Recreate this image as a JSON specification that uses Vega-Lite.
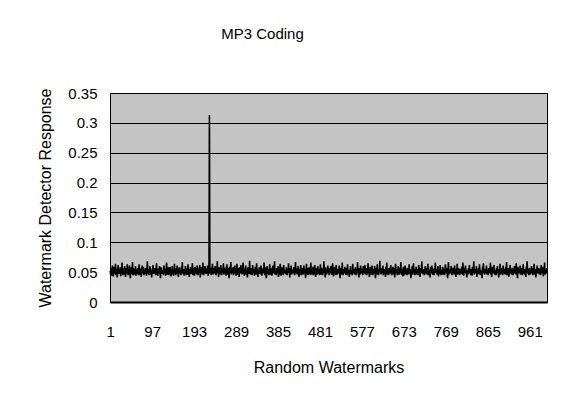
{"$schema":"https://vega.github.io/schema/vega-lite/v6.json","width":437,"height":209,"autosize":{"type":"none"},"padding":{"left":110,"top":93,"right":17,"bottom":102},"background":"white","title":{"text":"MP3 Coding","font":"Liberation Sans","fontSize":15,"fontWeight":"normal","color":"black","offset":44,"dx":-66},"config":{"view":{"fill":"#c4c4c4","stroke":"black","strokeWidth":1},"axis":{"labelFont":"Liberation Sans","titleFont":"Liberation Sans","labelFontSize":15,"titleFontSize":16,"titleFontWeight":"normal","labelColor":"black","titleColor":"black"}},"data":{"values":[
{"x":1,"y":0.052},{"x":2,"y":0.046},{"x":3,"y":0.057},{"x":4,"y":0.044},{"x":5,"y":0.050},{"x":6,"y":0.061},{"x":7,"y":0.049},{"x":8,"y":0.043},{"x":9,"y":0.054},{"x":10,"y":0.059},{"x":11,"y":0.047},{"x":12,"y":0.053},{"x":13,"y":0.064},{"x":14,"y":0.045},{"x":15,"y":0.050},{"x":16,"y":0.056},{"x":17,"y":0.041},{"x":18,"y":0.052},{"x":19,"y":0.062},{"x":20,"y":0.051},
{"x":21,"y":0.047},{"x":22,"y":0.055},{"x":23,"y":0.049},{"x":24,"y":0.058},{"x":25,"y":0.043},{"x":26,"y":0.053},{"x":27,"y":0.048},{"x":28,"y":0.066},{"x":29,"y":0.051},{"x":30,"y":0.045},{"x":31,"y":0.056},{"x":32,"y":0.049},{"x":33,"y":0.046},{"x":34,"y":0.060},{"x":35,"y":0.052},{"x":36,"y":0.042},{"x":37,"y":0.050},{"x":38,"y":0.057},{"x":39,"y":0.048},{"x":40,"y":0.063},
{"x":41,"y":0.050},{"x":42,"y":0.045},{"x":43,"y":0.055},{"x":44,"y":0.051},{"x":45,"y":0.061},{"x":46,"y":0.047},{"x":47,"y":0.040},{"x":48,"y":0.053},{"x":49,"y":0.058},{"x":50,"y":0.049},{"x":51,"y":0.048},{"x":52,"y":0.067},{"x":53,"y":0.052},{"x":54,"y":0.045},{"x":55,"y":0.050},{"x":56,"y":0.056},{"x":57,"y":0.046},{"x":58,"y":0.051},{"x":59,"y":0.060},{"x":60,"y":0.044},
{"x":61,"y":0.054},{"x":62,"y":0.049},{"x":63,"y":0.047},{"x":64,"y":0.057},{"x":65,"y":0.052},{"x":66,"y":0.045},{"x":67,"y":0.063},{"x":68,"y":0.051},{"x":69,"y":0.046},{"x":70,"y":0.056},{"x":71,"y":0.050},{"x":72,"y":0.042},{"x":73,"y":0.053},{"x":74,"y":0.061},{"x":75,"y":0.048},{"x":76,"y":0.051},{"x":77,"y":0.059},{"x":78,"y":0.045},{"x":79,"y":0.054},{"x":80,"y":0.050},
{"x":81,"y":0.047},{"x":82,"y":0.057},{"x":83,"y":0.051},{"x":84,"y":0.044},{"x":85,"y":0.053},{"x":86,"y":0.068},{"x":87,"y":0.050},{"x":88,"y":0.048},{"x":89,"y":0.055},{"x":90,"y":0.045},{"x":91,"y":0.051},{"x":92,"y":0.060},{"x":93,"y":0.046},{"x":94,"y":0.052},{"x":95,"y":0.050},{"x":96,"y":0.041},{"x":97,"y":0.056},{"x":98,"y":0.051},{"x":99,"y":0.062},{"x":100,"y":0.047},
{"x":101,"y":0.053},{"x":102,"y":0.048},{"x":103,"y":0.057},{"x":104,"y":0.049},{"x":105,"y":0.045},{"x":106,"y":0.054},{"x":107,"y":0.065},{"x":108,"y":0.046},{"x":109,"y":0.051},{"x":110,"y":0.044},{"x":111,"y":0.056},{"x":112,"y":0.050},{"x":113,"y":0.052},{"x":114,"y":0.060},{"x":115,"y":0.048},{"x":116,"y":0.040},{"x":117,"y":0.053},{"x":118,"y":0.058},{"x":119,"y":0.050},{"x":120,"y":0.047},
{"x":121,"y":0.054},{"x":122,"y":0.051},{"x":123,"y":0.045},{"x":124,"y":0.061},{"x":125,"y":0.050},{"x":126,"y":0.048},{"x":127,"y":0.056},{"x":128,"y":0.044},{"x":129,"y":0.052},{"x":130,"y":0.066},{"x":131,"y":0.051},{"x":132,"y":0.046},{"x":133,"y":0.050},{"x":134,"y":0.058},{"x":135,"y":0.045},{"x":136,"y":0.054},{"x":137,"y":0.048},{"x":138,"y":0.059},{"x":139,"y":0.051},{"x":140,"y":0.043},
{"x":141,"y":0.052},{"x":142,"y":0.049},{"x":143,"y":0.060},{"x":144,"y":0.046},{"x":145,"y":0.054},{"x":146,"y":0.044},{"x":147,"y":0.051},{"x":148,"y":0.064},{"x":149,"y":0.048},{"x":150,"y":0.053},{"x":151,"y":0.045},{"x":152,"y":0.056},{"x":153,"y":0.050},{"x":154,"y":0.061},{"x":155,"y":0.047},{"x":156,"y":0.051},{"x":157,"y":0.042},{"x":158,"y":0.054},{"x":159,"y":0.058},{"x":160,"y":0.050},
{"x":161,"y":0.048},{"x":162,"y":0.053},{"x":163,"y":0.045},{"x":164,"y":0.059},{"x":165,"y":0.051},{"x":166,"y":0.067},{"x":167,"y":0.047},{"x":168,"y":0.050},{"x":169,"y":0.055},{"x":170,"y":0.044},{"x":171,"y":0.053},{"x":172,"y":0.048},{"x":173,"y":0.060},{"x":174,"y":0.051},{"x":175,"y":0.045},{"x":176,"y":0.056},{"x":177,"y":0.049},{"x":178,"y":0.046},{"x":179,"y":0.063},{"x":180,"y":0.052},
{"x":181,"y":0.050},{"x":182,"y":0.042},{"x":183,"y":0.055},{"x":184,"y":0.051},{"x":185,"y":0.058},{"x":186,"y":0.047},{"x":187,"y":0.052},{"x":188,"y":0.048},{"x":189,"y":0.065},{"x":190,"y":0.045},{"x":191,"y":0.051},{"x":192,"y":0.057},{"x":193,"y":0.049},{"x":194,"y":0.044},{"x":195,"y":0.059},{"x":196,"y":0.052},{"x":197,"y":0.048},{"x":198,"y":0.055},{"x":199,"y":0.046},{"x":200,"y":0.061},
{"x":201,"y":0.051},{"x":202,"y":0.045},{"x":203,"y":0.056},{"x":204,"y":0.049},{"x":205,"y":0.053},{"x":206,"y":0.062},{"x":207,"y":0.041},{"x":208,"y":0.054},{"x":209,"y":0.048},{"x":210,"y":0.058},{"x":211,"y":0.051},{"x":212,"y":0.046},{"x":213,"y":0.066},{"x":214,"y":0.050},{"x":215,"y":0.045},{"x":216,"y":0.055},{"x":217,"y":0.052},{"x":218,"y":0.060},{"x":219,"y":0.048},{"x":220,"y":0.051},
{"x":221,"y":0.047},{"x":222,"y":0.056},{"x":223,"y":0.049},{"x":224,"y":0.061},{"x":225,"y":0.044},{"x":226,"y":0.053},{"x":227,"y":0.051},{"x":228,"y":0.313},{"x":229,"y":0.048},{"x":230,"y":0.055},{"x":231,"y":0.050},{"x":232,"y":0.045},{"x":233,"y":0.058},{"x":234,"y":0.052},{"x":235,"y":0.064},{"x":236,"y":0.046},{"x":237,"y":0.051},{"x":238,"y":0.057},{"x":239,"y":0.048},{"x":240,"y":0.053},
{"x":241,"y":0.060},{"x":242,"y":0.049},{"x":243,"y":0.045},{"x":244,"y":0.055},{"x":245,"y":0.051},{"x":246,"y":0.068},{"x":247,"y":0.048},{"x":248,"y":0.052},{"x":249,"y":0.042},{"x":250,"y":0.058},{"x":251,"y":0.050},{"x":252,"y":0.054},{"x":253,"y":0.046},{"x":254,"y":0.062},{"x":255,"y":0.051},{"x":256,"y":0.045},{"x":257,"y":0.056},{"x":258,"y":0.049},{"x":259,"y":0.053},{"x":260,"y":0.065},
{"x":261,"y":0.046},{"x":262,"y":0.051},{"x":263,"y":0.058},{"x":264,"y":0.048},{"x":265,"y":0.054},{"x":266,"y":0.044},{"x":267,"y":0.052},{"x":268,"y":0.063},{"x":269,"y":0.050},{"x":270,"y":0.046},{"x":271,"y":0.057},{"x":272,"y":0.051},{"x":273,"y":0.040},{"x":274,"y":0.059},{"x":275,"y":0.052},{"x":276,"y":0.049},{"x":277,"y":0.067},{"x":278,"y":0.046},{"x":279,"y":0.054},{"x":280,"y":0.048},
{"x":281,"y":0.051},{"x":282,"y":0.058},{"x":283,"y":0.045},{"x":284,"y":0.053},{"x":285,"y":0.050},{"x":286,"y":0.061},{"x":287,"y":0.048},{"x":288,"y":0.055},{"x":289,"y":0.044},{"x":290,"y":0.051},{"x":291,"y":0.064},{"x":292,"y":0.049},{"x":293,"y":0.046},{"x":294,"y":0.057},{"x":295,"y":0.052},{"x":296,"y":0.042},{"x":297,"y":0.058},{"x":298,"y":0.051},{"x":299,"y":0.048},{"x":300,"y":0.062},
{"x":301,"y":0.049},{"x":302,"y":0.055},{"x":303,"y":0.046},{"x":304,"y":0.053},{"x":305,"y":0.066},{"x":306,"y":0.048},{"x":307,"y":0.051},{"x":308,"y":0.044},{"x":309,"y":0.056},{"x":310,"y":0.050},{"x":311,"y":0.061},{"x":312,"y":0.046},{"x":313,"y":0.052},{"x":314,"y":0.051},{"x":315,"y":0.041},{"x":316,"y":0.058},{"x":317,"y":0.049},{"x":318,"y":0.054},{"x":319,"y":0.047},{"x":320,"y":0.069},
{"x":321,"y":0.051},{"x":322,"y":0.046},{"x":323,"y":0.057},{"x":324,"y":0.049},{"x":325,"y":0.053},{"x":326,"y":0.045},{"x":327,"y":0.062},{"x":328,"y":0.051},{"x":329,"y":0.048},{"x":330,"y":0.055},{"x":331,"y":0.044},{"x":332,"y":0.052},{"x":333,"y":0.059},{"x":334,"y":0.050},{"x":335,"y":0.046},{"x":336,"y":0.065},{"x":337,"y":0.051},{"x":338,"y":0.054},{"x":339,"y":0.042},{"x":340,"y":0.052},
{"x":341,"y":0.049},{"x":342,"y":0.058},{"x":343,"y":0.047},{"x":344,"y":0.053},{"x":345,"y":0.046},{"x":346,"y":0.061},{"x":347,"y":0.051},{"x":348,"y":0.044},{"x":349,"y":0.055},{"x":350,"y":0.050},{"x":351,"y":0.057},{"x":352,"y":0.048},{"x":353,"y":0.066},{"x":354,"y":0.051},{"x":355,"y":0.045},{"x":356,"y":0.052},{"x":357,"y":0.058},{"x":358,"y":0.040},{"x":359,"y":0.046},{"x":360,"y":0.060},
{"x":361,"y":0.052},{"x":362,"y":0.047},{"x":363,"y":0.055},{"x":364,"y":0.045},{"x":365,"y":0.051},{"x":366,"y":0.063},{"x":367,"y":0.049},{"x":368,"y":0.046},{"x":369,"y":0.057},{"x":370,"y":0.052},{"x":371,"y":0.044},{"x":372,"y":0.051},{"x":373,"y":0.061},{"x":374,"y":0.048},{"x":375,"y":0.054},{"x":376,"y":0.050},{"x":377,"y":0.068},{"x":378,"y":0.046},{"x":379,"y":0.053},{"x":380,"y":0.051},
{"x":381,"y":0.045},{"x":382,"y":0.057},{"x":383,"y":0.049},{"x":384,"y":0.052},{"x":385,"y":0.060},{"x":386,"y":0.042},{"x":387,"y":0.051},{"x":388,"y":0.046},{"x":389,"y":0.055},{"x":390,"y":0.064},{"x":391,"y":0.050},{"x":392,"y":0.044},{"x":393,"y":0.052},{"x":394,"y":0.058},{"x":395,"y":0.048},{"x":396,"y":0.051},{"x":397,"y":0.045},{"x":398,"y":0.062},{"x":399,"y":0.049},{"x":400,"y":0.054},
{"x":401,"y":0.048},{"x":402,"y":0.053},{"x":403,"y":0.046},{"x":404,"y":0.058},{"x":405,"y":0.051},{"x":406,"y":0.045},{"x":407,"y":0.055},{"x":408,"y":0.049},{"x":409,"y":0.065},{"x":410,"y":0.048},{"x":411,"y":0.052},{"x":412,"y":0.041},{"x":413,"y":0.057},{"x":414,"y":0.051},{"x":415,"y":0.061},{"x":416,"y":0.046},{"x":417,"y":0.050},{"x":418,"y":0.054},{"x":419,"y":0.048},{"x":420,"y":0.052},
{"x":421,"y":0.058},{"x":422,"y":0.049},{"x":423,"y":0.045},{"x":424,"y":0.053},{"x":425,"y":0.067},{"x":426,"y":0.048},{"x":427,"y":0.051},{"x":428,"y":0.056},{"x":429,"y":0.046},{"x":430,"y":0.050},{"x":431,"y":0.060},{"x":432,"y":0.052},{"x":433,"y":0.042},{"x":434,"y":0.055},{"x":435,"y":0.049},{"x":436,"y":0.048},{"x":437,"y":0.062},{"x":438,"y":0.051},{"x":439,"y":0.045},{"x":440,"y":0.057},
{"x":441,"y":0.049},{"x":442,"y":0.053},{"x":443,"y":0.046},{"x":444,"y":0.061},{"x":445,"y":0.051},{"x":446,"y":0.048},{"x":447,"y":0.055},{"x":448,"y":0.040},{"x":449,"y":0.052},{"x":450,"y":0.064},{"x":451,"y":0.050},{"x":452,"y":0.046},{"x":453,"y":0.057},{"x":454,"y":0.051},{"x":455,"y":0.045},{"x":456,"y":0.058},{"x":457,"y":0.052},{"x":458,"y":0.049},{"x":459,"y":0.048},{"x":460,"y":0.066},
{"x":461,"y":0.051},{"x":462,"y":0.046},{"x":463,"y":0.055},{"x":464,"y":0.049},{"x":465,"y":0.059},{"x":466,"y":0.045},{"x":467,"y":0.053},{"x":468,"y":0.048},{"x":469,"y":0.062},{"x":470,"y":0.051},{"x":471,"y":0.042},{"x":472,"y":0.057},{"x":473,"y":0.050},{"x":474,"y":0.052},{"x":475,"y":0.046},{"x":476,"y":0.060},{"x":477,"y":0.051},{"x":478,"y":0.048},{"x":479,"y":0.055},{"x":480,"y":0.045},
{"x":481,"y":0.052},{"x":482,"y":0.063},{"x":483,"y":0.049},{"x":484,"y":0.046},{"x":485,"y":0.057},{"x":486,"y":0.051},{"x":487,"y":0.045},{"x":488,"y":0.055},{"x":489,"y":0.050},{"x":490,"y":0.068},{"x":491,"y":0.048},{"x":492,"y":0.052},{"x":493,"y":0.041},{"x":494,"y":0.058},{"x":495,"y":0.051},{"x":496,"y":0.046},{"x":497,"y":0.054},{"x":498,"y":0.049},{"x":499,"y":0.061},{"x":500,"y":0.048},
{"x":501,"y":0.051},{"x":502,"y":0.045},{"x":503,"y":0.057},{"x":504,"y":0.052},{"x":505,"y":0.048},{"x":506,"y":0.060},{"x":507,"y":0.050},{"x":508,"y":0.046},{"x":509,"y":0.055},{"x":510,"y":0.065},{"x":511,"y":0.051},{"x":512,"y":0.043},{"x":513,"y":0.053},{"x":514,"y":0.058},{"x":515,"y":0.048},{"x":516,"y":0.050},{"x":517,"y":0.045},{"x":518,"y":0.062},{"x":519,"y":0.052},{"x":520,"y":0.049},
{"x":521,"y":0.046},{"x":522,"y":0.055},{"x":523,"y":0.051},{"x":524,"y":0.048},{"x":525,"y":0.061},{"x":526,"y":0.050},{"x":527,"y":0.040},{"x":528,"y":0.053},{"x":529,"y":0.057},{"x":530,"y":0.046},{"x":531,"y":0.051},{"x":532,"y":0.066},{"x":533,"y":0.049},{"x":534,"y":0.045},{"x":535,"y":0.055},{"x":536,"y":0.052},{"x":537,"y":0.048},{"x":538,"y":0.059},{"x":539,"y":0.051},{"x":540,"y":0.046},
{"x":541,"y":0.057},{"x":542,"y":0.049},{"x":543,"y":0.045},{"x":544,"y":0.063},{"x":545,"y":0.052},{"x":546,"y":0.048},{"x":547,"y":0.051},{"x":548,"y":0.042},{"x":549,"y":0.054},{"x":550,"y":0.050},{"x":551,"y":0.060},{"x":552,"y":0.046},{"x":553,"y":0.053},{"x":554,"y":0.051},{"x":555,"y":0.045},{"x":556,"y":0.064},{"x":557,"y":0.049},{"x":558,"y":0.055},{"x":559,"y":0.048},{"x":560,"y":0.052},
{"x":561,"y":0.046},{"x":562,"y":0.058},{"x":563,"y":0.051},{"x":564,"y":0.045},{"x":565,"y":0.055},{"x":566,"y":0.049},{"x":567,"y":0.067},{"x":568,"y":0.048},{"x":569,"y":0.053},{"x":570,"y":0.041},{"x":571,"y":0.057},{"x":572,"y":0.051},{"x":573,"y":0.046},{"x":574,"y":0.061},{"x":575,"y":0.050},{"x":576,"y":0.052},{"x":577,"y":0.048},{"x":578,"y":0.055},{"x":579,"y":0.045},{"x":580,"y":0.060},
{"x":581,"y":0.051},{"x":582,"y":0.048},{"x":583,"y":0.053},{"x":584,"y":0.062},{"x":585,"y":0.046},{"x":586,"y":0.050},{"x":587,"y":0.057},{"x":588,"y":0.045},{"x":589,"y":0.052},{"x":590,"y":0.051},{"x":591,"y":0.065},{"x":592,"y":0.048},{"x":593,"y":0.055},{"x":594,"y":0.042},{"x":595,"y":0.050},{"x":596,"y":0.059},{"x":597,"y":0.052},{"x":598,"y":0.046},{"x":599,"y":0.051},{"x":600,"y":0.061},
{"x":601,"y":0.049},{"x":602,"y":0.045},{"x":603,"y":0.055},{"x":604,"y":0.052},{"x":605,"y":0.048},{"x":606,"y":0.060},{"x":607,"y":0.051},{"x":608,"y":0.040},{"x":609,"y":0.057},{"x":610,"y":0.050},{"x":611,"y":0.046},{"x":612,"y":0.063},{"x":613,"y":0.052},{"x":614,"y":0.051},{"x":615,"y":0.045},{"x":616,"y":0.055},{"x":617,"y":0.049},{"x":618,"y":0.069},{"x":619,"y":0.048},{"x":620,"y":0.053},
{"x":621,"y":0.046},{"x":622,"y":0.057},{"x":623,"y":0.050},{"x":624,"y":0.051},{"x":625,"y":0.061},{"x":626,"y":0.045},{"x":627,"y":0.053},{"x":628,"y":0.048},{"x":629,"y":0.055},{"x":630,"y":0.050},{"x":631,"y":0.042},{"x":632,"y":0.059},{"x":633,"y":0.051},{"x":634,"y":0.066},{"x":635,"y":0.046},{"x":636,"y":0.052},{"x":637,"y":0.049},{"x":638,"y":0.045},{"x":639,"y":0.057},{"x":640,"y":0.051},
{"x":641,"y":0.048},{"x":642,"y":0.054},{"x":643,"y":0.062},{"x":644,"y":0.050},{"x":645,"y":0.045},{"x":646,"y":0.053},{"x":647,"y":0.051},{"x":648,"y":0.059},{"x":649,"y":0.046},{"x":650,"y":0.049},{"x":651,"y":0.057},{"x":652,"y":0.041},{"x":653,"y":0.052},{"x":654,"y":0.064},{"x":655,"y":0.051},{"x":656,"y":0.048},{"x":657,"y":0.055},{"x":658,"y":0.045},{"x":659,"y":0.050},{"x":660,"y":0.060},
{"x":661,"y":0.052},{"x":662,"y":0.046},{"x":663,"y":0.051},{"x":664,"y":0.057},{"x":665,"y":0.048},{"x":666,"y":0.067},{"x":667,"y":0.049},{"x":668,"y":0.045},{"x":669,"y":0.055},{"x":670,"y":0.051},{"x":671,"y":0.043},{"x":672,"y":0.059},{"x":673,"y":0.052},{"x":674,"y":0.048},{"x":675,"y":0.050},{"x":676,"y":0.061},{"x":677,"y":0.046},{"x":678,"y":0.054},{"x":679,"y":0.051},{"x":680,"y":0.045},
{"x":681,"y":0.057},{"x":682,"y":0.049},{"x":683,"y":0.053},{"x":684,"y":0.046},{"x":685,"y":0.063},{"x":686,"y":0.051},{"x":687,"y":0.048},{"x":688,"y":0.055},{"x":689,"y":0.040},{"x":690,"y":0.052},{"x":691,"y":0.050},{"x":692,"y":0.060},{"x":693,"y":0.046},{"x":694,"y":0.051},{"x":695,"y":0.065},{"x":696,"y":0.048},{"x":697,"y":0.055},{"x":698,"y":0.045},{"x":699,"y":0.053},{"x":700,"y":0.049},
{"x":701,"y":0.059},{"x":702,"y":0.046},{"x":703,"y":0.051},{"x":704,"y":0.055},{"x":705,"y":0.048},{"x":706,"y":0.045},{"x":707,"y":0.062},{"x":708,"y":0.052},{"x":709,"y":0.049},{"x":710,"y":0.042},{"x":711,"y":0.057},{"x":712,"y":0.051},{"x":713,"y":0.048},{"x":714,"y":0.068},{"x":715,"y":0.050},{"x":716,"y":0.053},{"x":717,"y":0.046},{"x":718,"y":0.055},{"x":719,"y":0.051},{"x":720,"y":0.045},
{"x":721,"y":0.052},{"x":722,"y":0.060},{"x":723,"y":0.048},{"x":724,"y":0.050},{"x":725,"y":0.057},{"x":726,"y":0.046},{"x":727,"y":0.051},{"x":728,"y":0.064},{"x":729,"y":0.045},{"x":730,"y":0.054},{"x":731,"y":0.049},{"x":732,"y":0.052},{"x":733,"y":0.041},{"x":734,"y":0.059},{"x":735,"y":0.051},{"x":736,"y":0.048},{"x":737,"y":0.061},{"x":738,"y":0.050},{"x":739,"y":0.046},{"x":740,"y":0.055},
{"x":741,"y":0.051},{"x":742,"y":0.045},{"x":743,"y":0.057},{"x":744,"y":0.052},{"x":745,"y":0.066},{"x":746,"y":0.048},{"x":747,"y":0.050},{"x":748,"y":0.055},{"x":749,"y":0.046},{"x":750,"y":0.051},{"x":751,"y":0.060},{"x":752,"y":0.043},{"x":753,"y":0.053},{"x":754,"y":0.049},{"x":755,"y":0.048},{"x":756,"y":0.062},{"x":757,"y":0.051},{"x":758,"y":0.054},{"x":759,"y":0.045},{"x":760,"y":0.052},
{"x":761,"y":0.049},{"x":762,"y":0.059},{"x":763,"y":0.046},{"x":764,"y":0.051},{"x":765,"y":0.055},{"x":766,"y":0.045},{"x":767,"y":0.052},{"x":768,"y":0.063},{"x":769,"y":0.050},{"x":770,"y":0.048},{"x":771,"y":0.057},{"x":772,"y":0.051},{"x":773,"y":0.040},{"x":774,"y":0.053},{"x":775,"y":0.067},{"x":776,"y":0.046},{"x":777,"y":0.050},{"x":778,"y":0.055},{"x":779,"y":0.051},{"x":780,"y":0.048},
{"x":781,"y":0.060},{"x":782,"y":0.049},{"x":783,"y":0.045},{"x":784,"y":0.053},{"x":785,"y":0.057},{"x":786,"y":0.048},{"x":787,"y":0.051},{"x":788,"y":0.046},{"x":789,"y":0.061},{"x":790,"y":0.050},{"x":791,"y":0.055},{"x":792,"y":0.042},{"x":793,"y":0.052},{"x":794,"y":0.051},{"x":795,"y":0.064},{"x":796,"y":0.048},{"x":797,"y":0.046},{"x":798,"y":0.057},{"x":799,"y":0.049},{"x":800,"y":0.053},
{"x":801,"y":0.045},{"x":802,"y":0.055},{"x":803,"y":0.051},{"x":804,"y":0.048},{"x":805,"y":0.059},{"x":806,"y":0.050},{"x":807,"y":0.046},{"x":808,"y":0.066},{"x":809,"y":0.052},{"x":810,"y":0.044},{"x":811,"y":0.057},{"x":812,"y":0.051},{"x":813,"y":0.049},{"x":814,"y":0.061},{"x":815,"y":0.048},{"x":816,"y":0.054},{"x":817,"y":0.041},{"x":818,"y":0.053},{"x":819,"y":0.051},{"x":820,"y":0.046},
{"x":821,"y":0.057},{"x":822,"y":0.049},{"x":823,"y":0.062},{"x":824,"y":0.048},{"x":825,"y":0.053},{"x":826,"y":0.045},{"x":827,"y":0.055},{"x":828,"y":0.051},{"x":829,"y":0.044},{"x":830,"y":0.059},{"x":831,"y":0.050},{"x":832,"y":0.052},{"x":833,"y":0.068},{"x":834,"y":0.046},{"x":835,"y":0.051},{"x":836,"y":0.055},{"x":837,"y":0.048},{"x":838,"y":0.050},{"x":839,"y":0.060},{"x":840,"y":0.042},
{"x":841,"y":0.052},{"x":842,"y":0.051},{"x":843,"y":0.048},{"x":844,"y":0.057},{"x":845,"y":0.046},{"x":846,"y":0.063},{"x":847,"y":0.050},{"x":848,"y":0.054},{"x":849,"y":0.045},{"x":850,"y":0.053},{"x":851,"y":0.051},{"x":852,"y":0.040},{"x":853,"y":0.059},{"x":854,"y":0.050},{"x":855,"y":0.065},{"x":856,"y":0.048},{"x":857,"y":0.052},{"x":858,"y":0.046},{"x":859,"y":0.055},{"x":860,"y":0.049},
{"x":861,"y":0.051},{"x":862,"y":0.061},{"x":863,"y":0.046},{"x":864,"y":0.053},{"x":865,"y":0.050},{"x":866,"y":0.045},{"x":867,"y":0.057},{"x":868,"y":0.048},{"x":869,"y":0.055},{"x":870,"y":0.051},{"x":871,"y":0.066},{"x":872,"y":0.046},{"x":873,"y":0.050},{"x":874,"y":0.042},{"x":875,"y":0.059},{"x":876,"y":0.052},{"x":877,"y":0.048},{"x":878,"y":0.055},{"x":879,"y":0.062},{"x":880,"y":0.050},
{"x":881,"y":0.046},{"x":882,"y":0.053},{"x":883,"y":0.051},{"x":884,"y":0.045},{"x":885,"y":0.057},{"x":886,"y":0.049},{"x":887,"y":0.060},{"x":888,"y":0.048},{"x":889,"y":0.055},{"x":890,"y":0.041},{"x":891,"y":0.052},{"x":892,"y":0.051},{"x":893,"y":0.064},{"x":894,"y":0.046},{"x":895,"y":0.050},{"x":896,"y":0.057},{"x":897,"y":0.048},{"x":898,"y":0.053},{"x":899,"y":0.045},{"x":900,"y":0.061},
{"x":901,"y":0.051},{"x":902,"y":0.048},{"x":903,"y":0.055},{"x":904,"y":0.049},{"x":905,"y":0.046},{"x":906,"y":0.059},{"x":907,"y":0.052},{"x":908,"y":0.067},{"x":909,"y":0.045},{"x":910,"y":0.051},{"x":911,"y":0.049},{"x":912,"y":0.057},{"x":913,"y":0.042},{"x":914,"y":0.053},{"x":915,"y":0.048},{"x":916,"y":0.062},{"x":917,"y":0.051},{"x":918,"y":0.055},{"x":919,"y":0.046},{"x":920,"y":0.050},
{"x":921,"y":0.057},{"x":922,"y":0.051},{"x":923,"y":0.045},{"x":924,"y":0.053},{"x":925,"y":0.049},{"x":926,"y":0.060},{"x":927,"y":0.048},{"x":928,"y":0.055},{"x":929,"y":0.046},{"x":930,"y":0.065},{"x":931,"y":0.050},{"x":932,"y":0.052},{"x":933,"y":0.040},{"x":934,"y":0.059},{"x":935,"y":0.051},{"x":936,"y":0.048},{"x":937,"y":0.055},{"x":938,"y":0.049},{"x":939,"y":0.061},{"x":940,"y":0.046},
{"x":941,"y":0.052},{"x":942,"y":0.049},{"x":943,"y":0.057},{"x":944,"y":0.045},{"x":945,"y":0.051},{"x":946,"y":0.063},{"x":947,"y":0.048},{"x":948,"y":0.053},{"x":949,"y":0.046},{"x":950,"y":0.055},{"x":951,"y":0.050},{"x":952,"y":0.042},{"x":953,"y":0.059},{"x":954,"y":0.051},{"x":955,"y":0.068},{"x":956,"y":0.048},{"x":957,"y":0.052},{"x":958,"y":0.049},{"x":959,"y":0.045},{"x":960,"y":0.057},
{"x":961,"y":0.051},{"x":962,"y":0.046},{"x":963,"y":0.055},{"x":964,"y":0.049},{"x":965,"y":0.060},{"x":966,"y":0.048},{"x":967,"y":0.053},{"x":968,"y":0.045},{"x":969,"y":0.057},{"x":970,"y":0.051},{"x":971,"y":0.064},{"x":972,"y":0.046},{"x":973,"y":0.050},{"x":974,"y":0.055},{"x":975,"y":0.041},{"x":976,"y":0.052},{"x":977,"y":0.051},{"x":978,"y":0.061},{"x":979,"y":0.048},{"x":980,"y":0.053},
{"x":981,"y":0.049},{"x":982,"y":0.057},{"x":983,"y":0.046},{"x":984,"y":0.051},{"x":985,"y":0.055},{"x":986,"y":0.045},{"x":987,"y":0.062},{"x":988,"y":0.050},{"x":989,"y":0.052},{"x":990,"y":0.048},{"x":991,"y":0.059},{"x":992,"y":0.043},{"x":993,"y":0.051},{"x":994,"y":0.055},{"x":995,"y":0.066},{"x":996,"y":0.046},{"x":997,"y":0.050},{"x":998,"y":0.053},{"x":999,"y":0.048},{"x":1000,"y":0.057}
]},"mark":{"type":"line","color":"black","strokeWidth":1.6},"encoding":{"x":{"field":"x","type":"quantitative","scale":{"domain":[0.5,1000.5],"nice":false,"zero":false},"axis":{"values":[1,97,193,289,385,481,577,673,769,865,961],"title":"Random Watermarks","grid":false,"ticks":false,"domain":true,"domainColor":"black","domainWidth":2,"labelPadding":22,"titlePadding":20,"labelFlush":false}},"y":{"field":"y","type":"quantitative","scale":{"domain":[0,0.35],"nice":false},"axis":{"values":[0,0.05,0.1,0.15,0.2,0.25,0.3,0.35],"format":".2~f","title":"Watermark Detector Response","grid":true,"gridColor":"black","gridOpacity":1,"gridWidth":1,"ticks":false,"domain":false,"labelPadding":13,"titlePadding":14}}}}
